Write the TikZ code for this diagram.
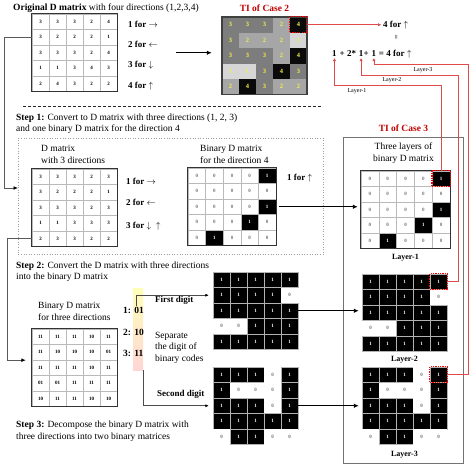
\documentclass[tikz,border=0pt]{standalone}
\usepackage{fontspec}
\setmainfont{Liberation Serif}
\usetikzlibrary{arrows.meta, positioning, calc}
\definecolor{tiRed}{HTML}{C00000}
\definecolor{lnRed}{HTML}{E04A4A}
\definecolor{tiYellow}{HTML}{F2EE48}
\definecolor{ti1}{gray}{0.84}
\definecolor{ti2}{gray}{0.65}
\definecolor{ti3}{gray}{0.49}
\definecolor{ti4}{gray}{0.04}
\colorlet{bf0}{white}
\colorlet{bf1}{black}
\colorlet{bt0}{black!55}
\colorlet{bt1}{white}

\tikzset{
  cell/.style={minimum width=\cw pt, minimum height=15.5pt, inner sep=0pt,
    font=\fontsize{5}{6}\selectfont\bfseries},
  pcell/.style={cell, draw=gray!55, line width=0.4pt},
  ticell/.style={cell, fill=ti#1, text=tiYellow, font=\fontsize{6.5}{7}\selectfont\bfseries},
  gcell/.style={cell, draw=gray!55, line width=0.4pt, fill=bf#1, text=bt#1},
  ocell/.style={cell, fill=bf#1, text=bt#1, draw=gray!60, line width=0.4pt, draw opacity=#1},
  mframe/.style={draw=black!80, line width=1pt},
  hilite/.style={draw=red, line width=1.3pt, dash pattern=on 1.2pt off 1.1pt},
  txt/.style={anchor=west, inner sep=0pt, align=left},
  dirlab/.style={anchor=west, inner sep=0pt, font=\fontsize{9}{11}\selectfont\bfseries},
  fml/.style={anchor=base west, inner sep=0pt, font=\fontsize{9}{11}\selectfont\bfseries},
  ttl/.style={font=\fontsize{9.5}{11}\selectfont\bfseries, text=tiRed},
  laylab/.style={font=\fontsize{8}{9}\selectfont\bfseries, inner sep=0pt},
  redlab/.style={font=\fontsize{6}{7}\selectfont, inner sep=0pt},
  code/.style={anchor=west, inner sep=1pt, font=\fontsize{9.5}{11}\selectfont\bfseries},
  garrow/.style={draw=black!65, line width=0.9pt, -{Latex[length=4.5pt, width=4pt, color=black]}},
  bigarrow/.style={draw=black, line width=1.1pt, -{Latex[length=5pt, width=4.5pt]}},
  thinarrow/.style={draw=black!70, line width=0.6pt, -{Latex[length=3.5pt, width=3pt, color=black]}},
  redarrow/.style={draw=lnRed, line width=0.6pt, -{Triangle[length=3pt, width=3pt]}},
  dotbox/.style={draw=gray!75, dotted, line width=0.6pt, inner sep=0pt},
  casebox/.style={draw=black!55, line width=0.9pt, inner sep=0pt},
  strip/.style={minimum width=10pt, minimum height=82pt, inner sep=0pt,
    top color=yellow!28, bottom color=red!16}
}

% name, top-left corner, cell style, rows (optional: cell width)
\newcommand{\dmat}[5][17]{%
  \def\cw{#1}%
  \begin{scope}[shift={(#3)}]
    \foreach \row [count=\r] in {#5} {
      \foreach \v [count=\c] in \row
        \node[#4=\v] (#2-\r-\c) at ({(\c-0.5)*#1}, {(\r-0.5)*15.5}) {\v};
    }
  \end{scope}
}

\begin{document}
\begin{tikzpicture}[x=1pt, y=-1pt, font=\fontsize{9.5}{11.5}\selectfont]
  \useasboundingbox (0,0) rectangle (474,466);

  % --- original D matrix and TI of case 2
  \node[txt] (title) at (13,8) {\textbf{Original D matrix} with four directions (1,2,3,4)};
  \dmat{orig}{32,14}{pcell}{{3,3,3,2,4},{3,2,2,2,1},{3,3,3,2,4},{1,1,3,4,3},{2,4,3,2,2}}
  \draw[mframe] (orig-1-1.north west) rectangle (orig-5-5.south east);
  \node[dirlab] (o1) at (128,24) {1 for $\rightarrow$};
  \node[dirlab] (o2) at (128,44) {2 for $\leftarrow$};
  \node[dirlab] (o3) at (128,65) {3 for $\downarrow$};
  \node[dirlab] (o4) at (128,86) {4 for $\uparrow$};

  \dmat{ti}{222,17}{ticell}{{3,3,3,2,4},{3,2,2,2,1},{3,3,3,2,4},{1,1,3,4,3},{2,4,3,2,2}}
  \draw[draw=black!75, line width=1.5pt] (ti-1-1.north west) rectangle (ti-5-5.south east);
  \draw[hilite] (ti-1-5.north west) rectangle (ti-1-5.south east);
  \node[ttl, above=2pt of ti-1-3] (ti2ttl) {TI of Case 2};
  \draw[bigarrow, shorten <=59pt, shorten >=10pt] (orig-3-5.east) -- (orig-3-5.east -| ti-3-1.west);

  % --- code formula
  \node[dirlab] (top4) at (383,25) {4 for $\uparrow$};
  \node[font=\fontsize{8}{8}\selectfont, rotate=90, inner sep=0pt] (eqv) at (397,37.5) {=};
  \node[fml] (f1) at (332,56.5) {1};
  \node[fml] (fa) at (f1.base east) {\kern2.4pt+\kern2.4pt2*\kern2.4pt};
  \node[fml] (f2) at (fa.base east) {1};
  \node[fml] (fb) at (f2.base east) {+\kern2.4pt};
  \node[fml] (f3) at (fb.base east) {1};
  \node[fml] (fc) at (f3.base east) {\kern2.4pt=\kern2.4pt4 for $\uparrow$};
  \draw[redarrow, shorten >=2pt] (ti-1-5.east) -- (ti-1-5.east -| top4.west);

  \draw[draw=black!85, line width=0.9pt, dash pattern=on 3pt off 2pt] (23,106) -- (322,106);

  % --- step 1
  \node[txt] (step1) at (16,123.5) {\textbf{Step 1:} Convert to D matrix with three directions (1, 2, 3)\\and one binary D matrix for the direction 4};
  \node[dotbox, anchor=north west, minimum width=305pt, minimum height=116pt] (s1box) at (18,138) {};
  \node[txt] (d3lab) at (41,154.5) {D matrix\\with 3 directions};
  \dmat{d3}{32,169}{pcell}{{3,3,3,2,3},{3,2,2,2,1},{3,3,3,2,3},{1,1,3,3,3},{2,3,3,2,2}}
  \draw[mframe] (d3-1-1.north west) rectangle (d3-5-5.south east);
  \node[dirlab] (d1) at (126,181) {1 for $\rightarrow$};
  \node[dirlab] (d2) at (126,202) {2 for $\leftarrow$};
  \node[dirlab] (d3) at (126,226) {3 for $\downarrow$\ \ $\uparrow$};

  \node[txt] (b4lab) at (200,154.5) {Binary D matrix\\for the direction 4};
  \dmat[17.6]{bin4}{188,168}{gcell}{{0,0,0,0,1},{0,0,0,0,0},{0,0,0,0,1},{0,0,0,1,0},{0,1,0,0,0}}
  \draw[mframe] (bin4-1-1.north west) rectangle (bin4-5-5.south east);
  \node[dirlab] (b4dir) at (287,178) {1 for $\uparrow$};

  % --- TI of case 3
  \node[casebox, anchor=north west, minimum width=120pt, minimum height=326pt] (c3box) at (343,137) {};
  \node[ttl, above=2pt of c3box] (ti3ttl) {TI of Case 3};
  \node[align=center, inner sep=0pt, below=6pt of c3box.north] (c3lab) {Three layers of\\binary D matrix};
  \dmat[17.8]{layer1}{361,171}{gcell}{{0,0,0,0,1},{0,0,0,0,0},{0,0,0,0,1},{0,0,0,1,0},{0,1,0,0,0}}
  \draw[mframe] (layer1-1-1.north west) rectangle (layer1-5-5.south east);
  \node[laylab, below=5pt of layer1-5-3] {Layer-1};
  \dmat{layer2}{362,274}{ocell}{{1,1,1,1,1},{1,1,1,1,0},{1,1,1,1,1},{0,0,1,1,1},{1,1,1,1,1}}
  \node[laylab, below=4pt of layer2-5-3] {Layer-2};
  \dmat{layer3}{362,367}{ocell}{{1,1,1,0,1},{1,0,0,0,1},{1,1,1,0,1},{1,1,1,1,1},{0,1,1,0,0}}
  \node[laylab, below=6pt of layer3-5-3] {Layer-3};
  \draw[hilite] (layer1-1-5.north west) rectangle (layer1-1-5.south east);
  \draw[hilite] (layer2-1-5.north west) rectangle (layer2-1-5.south east);
  \draw[hilite] (layer3-1-5.north west) rectangle (layer3-1-5.south east);
  \draw[bigarrow, line width=0.9pt, shorten <=3pt, shorten >=3pt] (bin4-3-5.east) -- (bin4-3-5.east -| layer1-3-1.west);

  % layer lines back to the formula
  \coordinate (l1y) at (0,85);
  \coordinate (l2x) at (458,75);
  \coordinate (l3x) at (468,64);
  \draw[redarrow, shorten >=1.5pt] (layer1-1-5.north) -- (layer1-1-5.north |- l1y) -| (f1.south);
  \draw[redarrow, shorten >=1.5pt] (layer2-1-5.east) -| (l2x) -| (f2.south);
  \draw[redarrow, shorten >=1.5pt] (layer3-1-5.east) -| (l3x) -| (f3.south);
  \node[redlab] at (357,91) {Layer-1};
  \node[redlab] at (392,80) {Layer-2};
  \node[redlab] at (423,70) {Layer-3};

  % --- step 2
  \node[txt] (step2) at (16,271.5) {\textbf{Step 2:} Convert the D matrix with three directions\\into the binary D matrix};
  \node[txt] (b3lab) at (38,311.5) {Binary D matrix\\for three directions};
  \dmat{b3}{32,329}{pcell}{{11,11,11,10,11},{11,10,10,10,01},{11,11,11,10,11},{01,01,11,11,11},{10,11,11,10,10}}
  \draw[mframe] (b3-1-1.north west) rectangle (b3-5-5.south east);
  \node[strip] (strip) at (138,329) {};
  \node[code] (c1) at (122,310) {1: 01};
  \node[code] (c2) at (122,332) {2: 10};
  \node[code] (c3) at (122,353) {3: 11};
  \node[dirlab] (fdlab) at (155,300) {First digit};
  \node[txt] (seplab) at (155,347.5) {Separate\\the digit of\\binary codes};
  \node[dirlab] (sdlab) at (157,394) {Second digit};

  \dmat{fd}{213,272}{ocell}{{1,1,1,1,1},{1,1,1,1,0},{1,1,1,1,1},{0,0,1,1,1},{1,1,1,1,1}}
  \dmat{sd}{213,367}{ocell}{{1,1,1,0,1},{1,0,0,0,1},{1,1,1,0,1},{1,1,1,1,1},{0,1,1,0,0}}
  \draw[thinarrow, shorten >=4pt] ($(strip.west |- c1.north)+(3,0)$) |- (fd-2-1.west);
  \draw[thinarrow, shorten >=4pt] (strip.south east) |- (sd-3-1.west);
  \draw[bigarrow, line width=0.9pt, shorten >=3pt] (fd-3-5.east) -- (fd-3-5.east -| layer2-3-1.west);
  \draw[bigarrow, line width=0.9pt, shorten >=3pt] (sd-3-5.east) -- (sd-3-5.east -| layer3-3-1.west);

  % --- step 3
  \node[txt] (step3) at (16,431) {\textbf{Step 3:} Decompose the binary D matrix with\\three directions into two binary matrices};

  % --- feeds on the left
  \coordinate (lx1) at (4,0);
  \coordinate (lx2) at (7,0);
  \coordinate (s1in) at ($(s1box.north west)+(0,50)$);
  \draw[garrow] (orig-2-1.west) -- (orig-2-1.west -| lx1) |- (s1in);
  \draw[garrow, shorten >=6pt] (d3-5-1.west) -- (d3-5-1.west -| lx2) |- (b3-2-1.south west);
\end{tikzpicture}
\end{document}
